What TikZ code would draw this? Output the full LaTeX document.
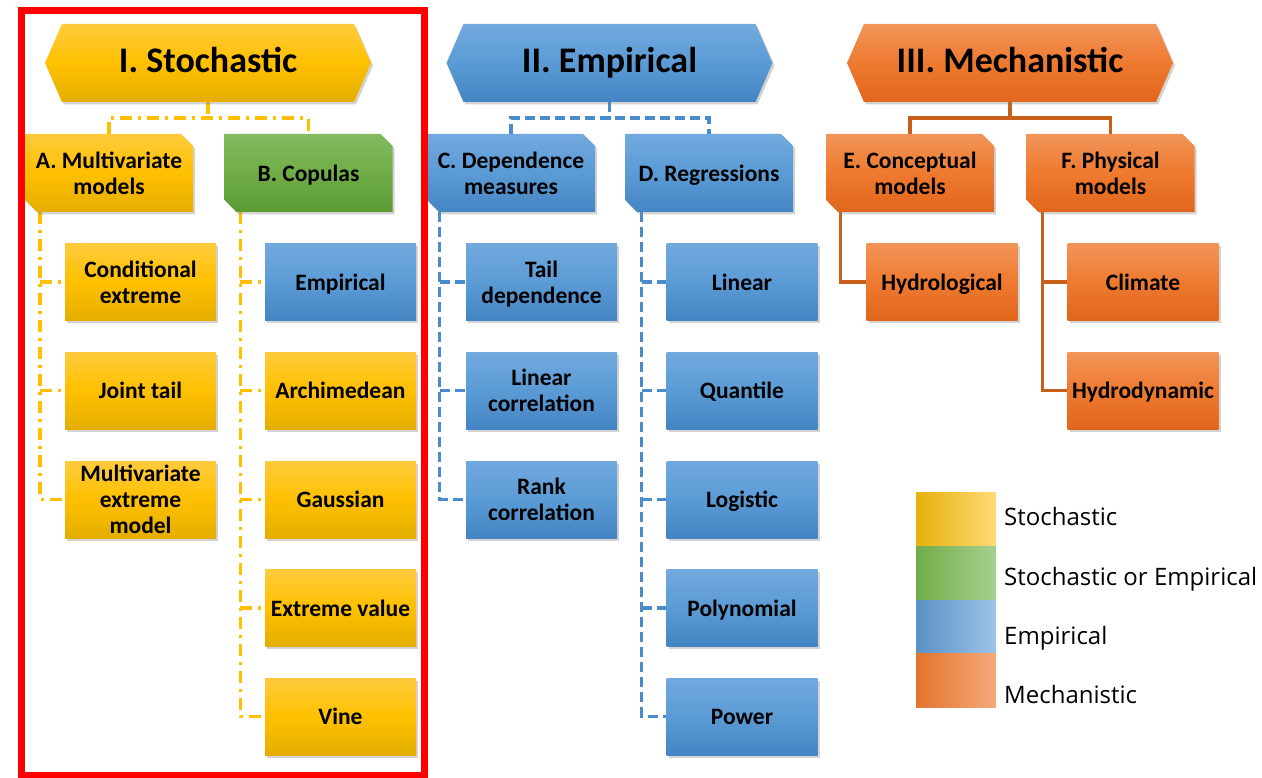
\documentclass[tikz,border=0pt]{standalone}
\usepackage{fontspec}
\setmainfont{Carlito}
\newfontfamily\legendfont{Open Sans}
\usetikzlibrary{shapes.symbols,shapes.misc,shadows,backgrounds,calc}

% box shading colours
\definecolor{yTop}{HTML}{FFCB3D}
\definecolor{yMid}{HTML}{FFC000}
\definecolor{yBot}{HTML}{E4AE00}
\definecolor{bTop}{HTML}{72A9DE}
\definecolor{bMid}{HTML}{5B9BD5}
\definecolor{bBot}{HTML}{4584C3}
\definecolor{gTop}{HTML}{82BA60}
\definecolor{gMid}{HTML}{70AD47}
\definecolor{gBot}{HTML}{5B9A33}
\definecolor{oTop}{HTML}{F29458}
\definecolor{oMid}{HTML}{EE7A30}
\definecolor{oBot}{HTML}{E0661A}
% connector colours
\definecolor{yLine}{HTML}{FFC000}
\definecolor{bLine}{HTML}{4A8BC9}
\definecolor{oLine}{HTML}{C8601A}
\definecolor{frame}{HTML}{FF0000}

\begin{document}
\begin{tikzpicture}[x=1pt,y=-1pt,
  lab/.style={font=\fontsize{23.5}{26}\selectfont\bfseries, align=center, text=black,
    inner sep=1pt, text depth=0pt},
  shadowed/.style={drop shadow={shadow xshift=2pt, shadow yshift=-2.5pt, opacity=0.35}},
  hdr/.style={signal, signal to=west and east, signal pointer angle=133,
    minimum width=326pt, minimum height=78pt, inner sep=0pt,
    text height=26pt, text depth=6pt,
    font=\fontsize{36}{40}\selectfont\bfseries, shadowed},
  cat/.style={lab, chamfered rectangle, chamfered rectangle corners={north east,south west},
    chamfered rectangle xsep=6pt, chamfered rectangle ysep=6pt,
    minimum width=168pt, minimum height=78pt, shadowed},
  leaf/.style={lab, rectangle, minimum width=151pt, minimum height=77pt, shadowed},
  yel/.style={top color=yTop, bottom color=yBot, middle color=yMid},
  blu/.style={top color=bTop, bottom color=bBot, middle color=bMid},
  grn/.style={top color=gTop, bottom color=gBot, middle color=gMid},
  org/.style={top color=oTop, bottom color=oBot, middle color=oMid},
  stoch/.style={draw=yLine, line width=3.5pt, dash pattern=on 12pt off 6pt on 3pt off 6pt},
  emp/.style={draw=bLine, line width=3.2pt, dash pattern=on 10pt off 5pt},
  mech/.style={draw=oLine, line width=3.2pt},
  legtext/.style={font=\legendfont\fontsize{24}{27}\selectfont, anchor=base west, inner sep=0pt}
]
\useasboundingbox (0,0) rectangle (1262,778);

% ---- headers
\node[hdr, yel] (I)   at (208,63)    {I. Stochastic};
\node[hdr, blu] (II)  at (609.5,63)  {II. Empirical};
\node[hdr, org] (III) at (1010,63)   {III. Mechanistic};

% ---- categories
\node[cat, yel] (A) at (109,173)   {A. Multivariate\\models};
\node[cat, grn] (B) at (308.5,173) {B. Copulas};
\node[cat, blu] (C) at (511,173)   {C. Dependence\\measures};
\node[cat, blu] (D) at (709,173)   {D. Regressions};
\node[cat, org] (E) at (910,173)   {E. Conceptual\\models};
\node[cat, org] (F) at (1110.5,173){F. Physical\\models};

% ---- methods
\node[leaf, yel] (A1) at (140.5,282)   {Conditional\\extreme};
\node[leaf, yel] (A2) at (140.5,390.5) {Joint tail};
\node[leaf, yel] (A3) at (140.5,499.5) {Multivariate\\extreme\\model};

\node[leaf, blu] (B1) at (340.5,282)   {Empirical};
\node[leaf, yel] (B2) at (340.5,390.5) {Archimedean};
\node[leaf, yel] (B3) at (340.5,499.5) {Gaussian};
\node[leaf, yel] (B4) at (340.5,608)   {Extreme value};
\node[leaf, yel] (B5) at (340.5,716.5) {Vine};

\node[leaf, blu] (C1) at (541.5,282)   {Tail\\dependence};
\node[leaf, blu] (C2) at (541.5,390.5) {Linear\\correlation};
\node[leaf, blu] (C3) at (541.5,499.5) {Rank\\correlation};

\node[leaf, blu] (D1) at (742,282)   {Linear};
\node[leaf, blu] (D2) at (742,390.5) {Quantile};
\node[leaf, blu] (D3) at (742,499.5) {Logistic};
\node[leaf, blu] (D4) at (742,608)   {Polynomial};
\node[leaf, blu] (D5) at (742,716.5) {Power};

\node[leaf, org] (E1) at (942,282)   {Hydrological};
\node[leaf, org] (F1) at (1143,282)   {Climate};
\node[leaf, org] (F2) at (1143,390.5) {Hydrodynamic};

% ---- junction points
\coordinate (jI)   at (I.south |- 0,118);
\coordinate (jII)  at (II.south |- 0,118);
\coordinate (jIII) at (III.south |- 0,118);
\coordinate (tA) at ($(A.west |- A.south)+(15,0)$);
\coordinate (tB) at ($(B.west |- B.south)+(16,0)$);
\coordinate (tC) at ($(C.west |- C.south)+(13,0)$);
\coordinate (tD) at ($(D.west |- D.south)+(17,0)$);
\coordinate (tE) at ($(E.west |- E.south)+(15,0)$);
\coordinate (tF) at ($(F.west |- F.south)+(16,0)$);

% ---- connectors
\begin{scope}[on background layer]
  % stochastic branch
  \draw[stoch] (I.south) -- (jI);
  \draw[stoch] (A.north) |- (jI) -| (B.north);
  \draw[stoch] (tA) |- (A3.west);
  \draw[stoch] (A1.west -| tA) -- (A1.west);
  \draw[stoch] (A2.west -| tA) -- (A2.west);
  \draw[stoch] (tB) |- (B5.west);
  \draw[stoch] (B1.west -| tB) -- (B1.west);
  \draw[stoch] (B2.west -| tB) -- (B2.west);
  \draw[stoch] (B3.west -| tB) -- (B3.west);
  \draw[stoch] (B4.west -| tB) -- (B4.west);
  % empirical branch
  \draw[emp] (II.south) -- (jII);
  \draw[emp] (C.north) |- (jII) -| (D.north);
  \draw[emp] (tC) |- (C3.west);
  \draw[emp] (C1.west -| tC) -- (C1.west);
  \draw[emp] (C2.west -| tC) -- (C2.west);
  \draw[emp] (tD) |- (D5.west);
  \draw[emp] (D1.west -| tD) -- (D1.west);
  \draw[emp] (D2.west -| tD) -- (D2.west);
  \draw[emp] (D3.west -| tD) -- (D3.west);
  \draw[emp] (D4.west -| tD) -- (D4.west);
  % mechanistic branch
  \draw[mech] (III.south) -- (jIII);
  \draw[mech] (E.north) |- (jIII) -| (F.north);
  \draw[mech] (tE) |- (E1.west);
  \draw[mech] (tF) |- (F2.west);
  \draw[mech] (F1.west -| tF) -- (F1.west);
\end{scope}

% ---- legend
\shade[left color=yMid!90!black!95, right color=yTop!70!white] (916,492) rectangle (996,546);
\shade[left color=gMid, right color=gTop!70!white] (916,546) rectangle (996,600);
\shade[left color=bMid!90!black!95, right color=bTop!70!white] (916,600) rectangle (996,653);
\shade[left color=oMid!95!black, right color=oTop!80!white] (916,653) rectangle (996,707);
\node[legtext] (L1) at (1004,525) {Stochastic};
\node[legtext] (L2) at (1004,585) {Stochastic or Empirical};
\node[legtext] (L3) at (1004,644) {Empirical};
\node[legtext] (L4) at (1004,703) {Mechanistic};

% ---- frame around the stochastic family
\draw[frame, line width=7pt] (21,11) rectangle (424,775);
\end{tikzpicture}
\end{document}
